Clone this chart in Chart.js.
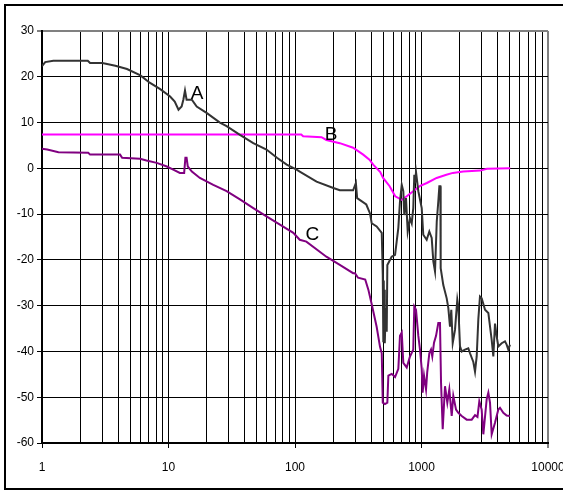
<!DOCTYPE html>
<html>
<head>
<meta charset="utf-8">
<script src="https://cdn.jsdelivr.net/npm/chart.js@4"></script>
<style>
  body { margin: 0; background: #fff; }
  canvas { display: block; }
</style>
</head>
<body>
<canvas id="chart" width="563" height="491"></canvas>
<script>
// curve A (dark grey)
const aFreq = [1, 1.06, 1.23, 2.3, 2.4, 3.0, 3.8, 4.7, 6.0, 7.1, 8.6, 10.3, 11.2, 12.0, 12.7, 13.1, 13.5, 13.9, 15.3, 16.7,
  20, 25.5, 28.8, 36.7, 46.8, 59.5, 72, 86, 103, 109, 148, 201, 226, 288, 303, 310, 366, 391, 404, 442,
  485, 494, 499, 503, 507, 511, 514, 522, 531, 537, 581, 618, 637, 656, 676, 698, 718, 731, 754, 778,
  811, 837, 861, 877, 889, 905, 944, 1004, 1033, 1099, 1153, 1204, 1240, 1279, 1320, 1358, 1384, 1410, 1418, 1487,
  1582, 1629, 1680, 1720, 1765, 1840, 1919, 1955, 2015, 2079, 2207, 2344, 2418, 2569, 2649, 2731, 2813, 2899, 2990, 3178,
  3376, 3588, 3697, 3811, 3929, 4049, 4302, 4570, 4711, 4855, 5005];
const aLevel = [22.3, 23.2, 23.5, 23.5, 23.0, 23.0, 22.4, 21.7, 20.3, 18.7, 17.3, 15.7, 14.6, 12.8, 13.5, 15.0, 17.0, 15.0, 15.0, 13.5,
  12.1, 10.0, 9.2, 7.3, 5.5, 4.1, 2.3, 0.8, -0.3, -0.7, -2.9, -4.3, -4.8, -4.8, -3.2, -6.5, -7.9, -9.8, -12.0, -12.7,
  -14.1, -23.2, -37.8, -24.5, -36.5, -26.5, -38.2, -30.5, -35.7, -21.1, -19.3, -18.9, -15.9, -13.0, -7.2, -3.6, -5.0, -10.2, -6.5, -13.8,
  -10.9, -12.0, -8.7, -1.4, -3.3, -0.8, -5.0, -8.7, -14.5, -15.6, -13.8, -15.2, -20.3, -22.5, -11.6, -7.2, -3.9, -3.9, -21.8, -25.5,
  -28.4, -30.5, -34.6, -30.9, -38.2, -35.3, -28.7, -30.2, -38.9, -40.0, -39.6, -39.3, -40.4, -42.3, -44.4, -41.1, -33.0, -28.0, -28.4, -30.9,
  -31.6, -37.5, -41.1, -33.9, -36.7, -38.9, -38.2, -37.8, -38.5, -39.6, -38.5];

// curve B (magenta)
const bFreq = [1, 112, 116, 162, 177, 226, 288, 346, 388, 415, 472, 497, 560, 620, 698, 764, 860, 968, 1102, 1317,
  1572, 1771, 2140, 2920, 3290, 5030];
const bLevel = [7.4, 7.4, 7.0, 6.8, 6.2, 5.5, 4.5, 3.0, 1.9, 0.8, -0.8, -2.1, -3.9, -6.1, -6.9, -6.1, -5.0, -3.9, -3.2, -2.1,
  -1.4, -1.0, -0.7, -0.5, -0.1, 0.0];

// curve C (purple)
const cFreq = [1, 1.1, 1.35, 2.32, 2.4, 4.14, 4.3, 5.95, 6.7, 8.07, 9.7, 10.9, 12.3, 13.3, 13.6, 13.9, 14.2, 15.3, 17.7, 22.6,
  28.8, 36.7, 46.8, 59.5, 76, 97, 109, 123, 177, 226, 288, 298, 315, 359, 380, 402, 442, 470, 485, 494,
  514, 537, 547, 581, 618, 656, 676, 698, 718, 764, 811, 861, 877, 905, 944, 973, 1004, 1021, 1047, 1086,
  1110, 1153, 1189, 1217, 1256, 1303, 1358, 1400, 1427, 1471, 1534, 1600, 1659, 1733, 1784, 1875, 1955, 2079, 2276, 2494,
  2649, 2770, 2864, 2990, 3082, 3276, 3376, 3480, 3588, 3811, 3929, 4049, 4174, 4434, 4711, 5005];
const cLevel = [4.3, 4.1, 3.5, 3.4, 3.0, 3.0, 2.3, 2.1, 1.7, 1.2, 0.4, -0.3, -1.0, -1.0, 2.3, 2.3, 0.4, -0.7, -2.1, -3.6,
  -5.0, -6.8, -8.7, -10.5, -12.3, -14.1, -15.6, -16.0, -19.3, -21.1, -22.9, -22.9, -23.9, -24.3, -26.5, -29.4, -34.6, -39.0, -40.4, -51.2,
  -51.5, -51.2, -45.3, -44.9, -45.6, -43.8, -36.6, -35.9, -42.5, -43.5, -41.1, -39.6, -30.2, -30.9, -36.6, -39.6, -43.8, -49.0, -45.3, -48.3,
  -44.5, -40.4, -39.6, -41.1, -38.1, -36.6, -33.8, -33.8, -46.8, -57.0, -47.6, -51.2, -48.3, -54.1, -49.7, -52.7, -53.4, -54.1, -54.9, -54.9,
  -53.9, -54.3, -50.9, -52.7, -58.1, -50.4, -49.0, -51.2, -58.1, -55.6, -54.1, -52.7, -52.3, -53.4, -54.0, -54.1];

const seriesNames = ['A', 'B', 'C'];
const xDecades = [1, 10, 100, 1000, 10000];
const xSteps = [1, 2, 3, 4, 5, 6, 7, 8, 9];

const FONT = '"Liberation Sans", Arial, sans-serif';

function toPoints(xs, ys) {
  return xs.map((x, i) => ({ x: x, y: ys[i] }));
}

// grid lines at 1..9 of every decade, plus the last decade
const gridTicks = [];
xDecades.forEach(d => {
  if (d === xDecades[xDecades.length - 1]) gridTicks.push(d);
  else xSteps.forEach(s => gridTicks.push(d * s));
});

const extras = {
  id: 'extras',
  beforeDraw(chart) {
    const ctx = chart.ctx;
    ctx.save();
    ctx.fillStyle = '#fff';
    ctx.fillRect(0, 0, chart.width, chart.height);
    ctx.restore();
  },
  afterDraw(chart) {
    const ctx = chart.ctx;
    const xs = chart.scales.x, ys = chart.scales.y;
    ctx.save();
    // outer frame
    ctx.strokeStyle = '#000';
    ctx.lineWidth = 2;
    ctx.strokeRect(5, 5, 620, 484);
    // curve names
    const at = [[16.8, 15.2], [193, 6.1], [137, -15.6]];
    ctx.fillStyle = '#000';
    ctx.font = '19px ' + FONT;
    ctx.textAlign = 'center';
    ctx.textBaseline = 'alphabetic';
    seriesNames.forEach((name, i) => {
      ctx.fillText(name, xs.getPixelForValue(at[i][0]), ys.getPixelForValue(at[i][1]));
    });
    ctx.restore();
  }
};

new Chart(document.getElementById('chart').getContext('2d'), {
  type: 'line',
  data: {
    datasets: [
      { label: seriesNames[0], data: toPoints(aFreq, aLevel), borderColor: '#333333', borderWidth: 2 },
      { label: seriesNames[1], data: toPoints(bFreq, bLevel), borderColor: '#ff00ff', borderWidth: 2 },
      { label: seriesNames[2], data: toPoints(cFreq, cLevel), borderColor: '#800080', borderWidth: 2 }
    ]
  },
  options: {
    responsive: false,
    animation: false,
    devicePixelRatio: 1,
    layout: { padding: { left: 0, right: 15, top: 31, bottom: 0 } },
    elements: { point: { radius: 0 }, line: { tension: 0, fill: false } },
    plugins: { legend: { display: false }, tooltip: { enabled: false } },
    scales: {
      x: {
        type: 'logarithmic',
        min: 1,
        max: 10000,
        afterBuildTicks: s => { s.ticks = gridTicks.map(v => ({ value: v })); },
        afterFit: s => { s.height = 48; s.paddingLeft = 0; s.paddingRight = 0; },
        ticks: {
          autoSkip: false,
          maxRotation: 0,
          minRotation: 0,
          padding: 12,
          color: '#000',
          font: { family: FONT, size: 12 },
          callback: v => xDecades.includes(v) ? String(v) : ''
        },
        grid: {
          color: c => c.tick && c.tick.value === 10000 ? '#808080' : '#000',
          lineWidth: c => c.tick && c.tick.value === 10000 ? 2 : 1,
          tickColor: c => c.tick && xDecades.includes(c.tick.value) ? '#000' : 'rgba(0,0,0,0)',
          tickLength: 5,
          tickWidth: 1
        },
        border: { color: '#000', width: 2 }
      },
      y: {
        min: -60,
        max: 30,
        afterFit: s => { s.width = 42; },
        ticks: {
          stepSize: 10,
          padding: 3,
          color: '#000',
          font: { family: FONT, size: 12 }
        },
        grid: {
          color: c => c.tick && c.tick.value === 30 ? '#808080' : '#000',
          lineWidth: c => c.tick && c.tick.value === 30 ? 2 : 1,
          tickColor: '#000',
          tickLength: 5,
          tickWidth: 1
        },
        border: { color: '#000', width: 2 }
      }
    }
  },
  plugins: [extras]
});
</script>
</body>
</html>
